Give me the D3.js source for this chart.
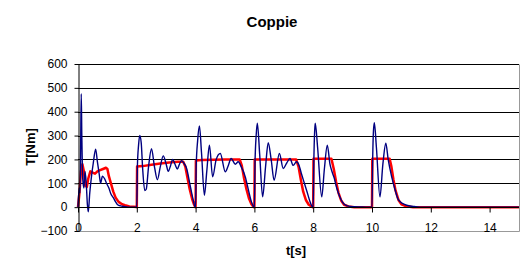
<!DOCTYPE html>
<html>
<head>
<meta charset="utf-8">
<script src="https://cdn.jsdelivr.net/npm/d3@7"></script>
<style>
	body { margin: 0; background: #fff; }
	svg { display: block; font-family: "Liberation Sans", Arial, sans-serif; }
</style>
</head>
<body>
<svg class="chart" width="525" height="267"></svg>
<script>
// Measured torque (blue)
const measTime = [
	0, 0.04, 0.07, 0.09, 0.11, 0.13, 0.16, 0.2, 0.24, 0.28, 0.32, 0.35, 0.4, 0.46, 0.52, 0.6, 0.66, 0.72, 0.77, 0.83, 0.9, 0.97, 1.05, 1.12, 1.2, 1.28, 1.35, 1.45, 1.55, 1.7, 1.85, 1.99,
	2.0, 2.02, 2.06, 2.1, 2.15, 2.2, 2.27, 2.32, 2.4, 2.5, 2.6, 2.7, 2.8, 2.9, 3.0, 3.07, 3.15, 3.22, 3.3, 3.38, 3.45, 3.52, 3.6, 3.7, 3.8, 3.9, 3.99,
	4.0, 4.02, 4.07, 4.13, 4.2, 4.3, 4.38, 4.47, 4.58, 4.7, 4.84, 5.01, 5.1, 5.21, 5.35, 5.45, 5.55, 5.69, 5.8, 5.9, 5.99,
	6.0, 6.02, 6.06, 6.1, 6.18, 6.28, 6.38, 6.47, 6.57, 6.67, 6.85, 6.98, 7.1, 7.21, 7.32, 7.43, 7.52, 7.6, 7.7, 7.8, 7.9, 7.99,
	8.0, 8.02, 8.05, 8.07, 8.15, 8.29, 8.38, 8.48, 8.57, 8.65, 8.72, 8.8, 8.9, 9.0, 9.1, 9.25, 9.4, 9.6, 9.8, 9.99,
	10.0, 10.02, 10.05, 10.08, 10.15, 10.27, 10.37, 10.47, 10.55, 10.67, 10.78, 10.9, 11.05, 11.18, 11.4, 11.63, 12, 15
];
const measTorque = [
	0, 80, 60, 250, 475, 300, 120, 80, 150, 100, 10, -20, 60, 130, 185, 243, 190, 140, 100, 130, 120, 100, 80, 55, 40, 22, 10, 5, 3, 0, 0, 0,
	0, 170, 260, 300, 270, 160, 70, 75, 170, 245, 170, 115, 170, 215, 180, 150, 175, 200, 180, 160, 180, 195, 185, 160, 100, 40, 0,
	0, 170, 280, 340, 230, 50, 150, 260, 127, 200, 225, 148, 170, 204, 180, 190, 170, 127, 70, 22, 0,
	0, 180, 300, 352, 220, 43, 170, 270, 200, 113, 225, 162, 185, 204, 175, 190, 175, 140, 100, 60, 20, 0,
	0, 180, 320, 352, 250, 43, 160, 260, 180, 145, 120, 80, 45, 20, 8, 3, 2, 1, 0, 0,
	0, 180, 320, 354, 250, 43, 180, 268, 200, 127, 75, 30, 15, 8, 3, 0, 0, 0
];

// Reference torque (red)
const refTime = [
	0, 0.05, 0.1, 0.15, 0.2, 0.25, 0.3, 0.35, 0.42, 0.5, 0.58, 0.66, 0.75, 0.85, 0.95, 1.0, 1.05, 1.12, 1.2, 1.28, 1.38, 1.5, 1.6, 1.75, 1.9, 1.99,
	2.0, 2.01, 2.2, 2.5, 2.8, 3.1, 3.4, 3.58, 3.65, 3.72, 3.8, 3.88, 3.95, 3.99,
	4.0, 4.01, 4.2, 5.0, 5.5, 5.57, 5.65, 5.73, 5.82, 5.9, 5.98,
	6.0, 6.01, 7.42, 7.5, 7.58, 7.66, 7.75, 7.85, 7.98,
	8.0, 8.01, 8.62, 8.7, 8.78, 8.86, 8.95, 9.05, 9.2, 9.4,
	10.0, 10.01, 10.6, 10.66, 10.73, 10.8, 10.9, 11.0, 11.15, 11.4, 15
];
const refTorque = [
	0, 60, 150, 180, 150, 90, 85, 120, 150, 145, 140, 150, 155, 160, 165, 160, 130, 100, 65, 40, 22, 12, 8, 3, 2, 0,
	0, 170, 172, 178, 183, 187, 190, 190, 170, 125, 75, 35, 10, 0,
	0, 195, 198, 200, 200, 175, 120, 75, 35, 12, 0,
	0, 200, 200, 170, 115, 65, 30, 10, 0,
	0, 203, 203, 160, 105, 60, 28, 10, 3, 0,
	0, 203, 203, 170, 115, 70, 30, 12, 4, 0, 0
];

const xTicks = [0, 2, 4, 6, 8, 10, 12, 14];
const yTicks = [-100, 0, 100, 200, 300, 400, 500, 600];

////////////////////////////////////////////////////////////
//// Setup /////////////////////////////////////////////////
////////////////////////////////////////////////////////////
const svg = d3.select(".chart");
const margin = { top: 64, right: 6, bottom: 36, left: 78 };
const W = 525, H = 267;

const x = d3.scaleLinear().domain([0, 15]).range([margin.left, W - margin.right]);
const y = d3.scaleLinear().domain([-100, 600]).range([H - margin.bottom, margin.top]);

// gridlines
svg.append("g")
	.selectAll("line")
	.data(yTicks.filter(d => d > 0))
	.join("line")
	.attr("x1", x(0)).attr("x2", x(15))
	.attr("y1", d => Math.round(y(d)) + 0.5).attr("y2", d => Math.round(y(d)) + 0.5)
	.attr("stroke", "#000").attr("stroke-width", 1);

// plot border (bottom, right)
svg.append("path")
	.attr("d", `M${x(0)},${Math.round(y(-100)) + 0.5}H${Math.round(x(15)) + 0.5}V${Math.round(y(600)) + 0.5}`)
	.attr("fill", "none").attr("stroke", "#999");

////////////////////////////////////////////////////////////
//// Lines /////////////////////////////////////////////////
////////////////////////////////////////////////////////////
const refLine = d3.line()
	.x(i => x(refTime[i]))
	.y(i => y(refTorque[i]));

const measLine = d3.line()
	.x(i => x(measTime[i]))
	.y(i => y(measTorque[i]))
	.curve(d3.curveMonotoneX);

svg.append("path")
	.attr("d", refLine(d3.range(refTime.length)))
	.attr("fill", "none")
	.attr("stroke", "#ff0000")
	.attr("stroke-width", 2.5)
	.attr("stroke-linejoin", "round");

svg.append("path")
	.attr("d", measLine(d3.range(measTime.length)))
	.attr("fill", "none")
	.attr("stroke", "#000080")
	.attr("stroke-width", 1.4)
	.attr("stroke-linejoin", "round");

////////////////////////////////////////////////////////////
//// Axes //////////////////////////////////////////////////
////////////////////////////////////////////////////////////
const xAxis = svg.append("g")
	.attr("transform", `translate(0,${Math.round(y(0)) + 0.5})`)
	.call(d3.axisBottom(x).tickValues(xTicks).tickSize(5).tickPadding(11).tickSizeOuter(0));
xAxis.select(".domain").attr("d", `M${x(0)},0H${x(15)}`).attr("stroke", "#000");
xAxis.selectAll("text").attr("font-size", 12).attr("fill", "#000").attr("font-family", "Liberation Sans, Arial, sans-serif");

const yAxis = svg.append("g")
	.attr("transform", `translate(${Math.round(x(0)) + 0.5},0)`)
	.call(d3.axisLeft(y).tickValues(yTicks).tickSize(4).tickPadding(7).tickSizeOuter(0));
yAxis.select(".domain").attr("stroke", "#000");
yAxis.selectAll("text").attr("font-size", 12).attr("fill", "#000").attr("font-family", "Liberation Sans, Arial, sans-serif");

// titles
svg.append("text")
	.attr("x", 272).attr("y", 27)
	.attr("text-anchor", "middle")
	.attr("font-size", 15).attr("font-weight", "bold")
	.text("Coppie");

svg.append("text")
	.attr("transform", "translate(35,147) rotate(-90)")
	.attr("text-anchor", "middle")
	.attr("font-size", 13).attr("font-weight", "bold")
	.text("T[Nm]");

svg.append("text")
	.attr("x", 296).attr("y", 255)
	.attr("text-anchor", "middle")
	.attr("font-size", 13).attr("font-weight", "bold")
	.text("t[s]");
</script>
</body>
</html>
